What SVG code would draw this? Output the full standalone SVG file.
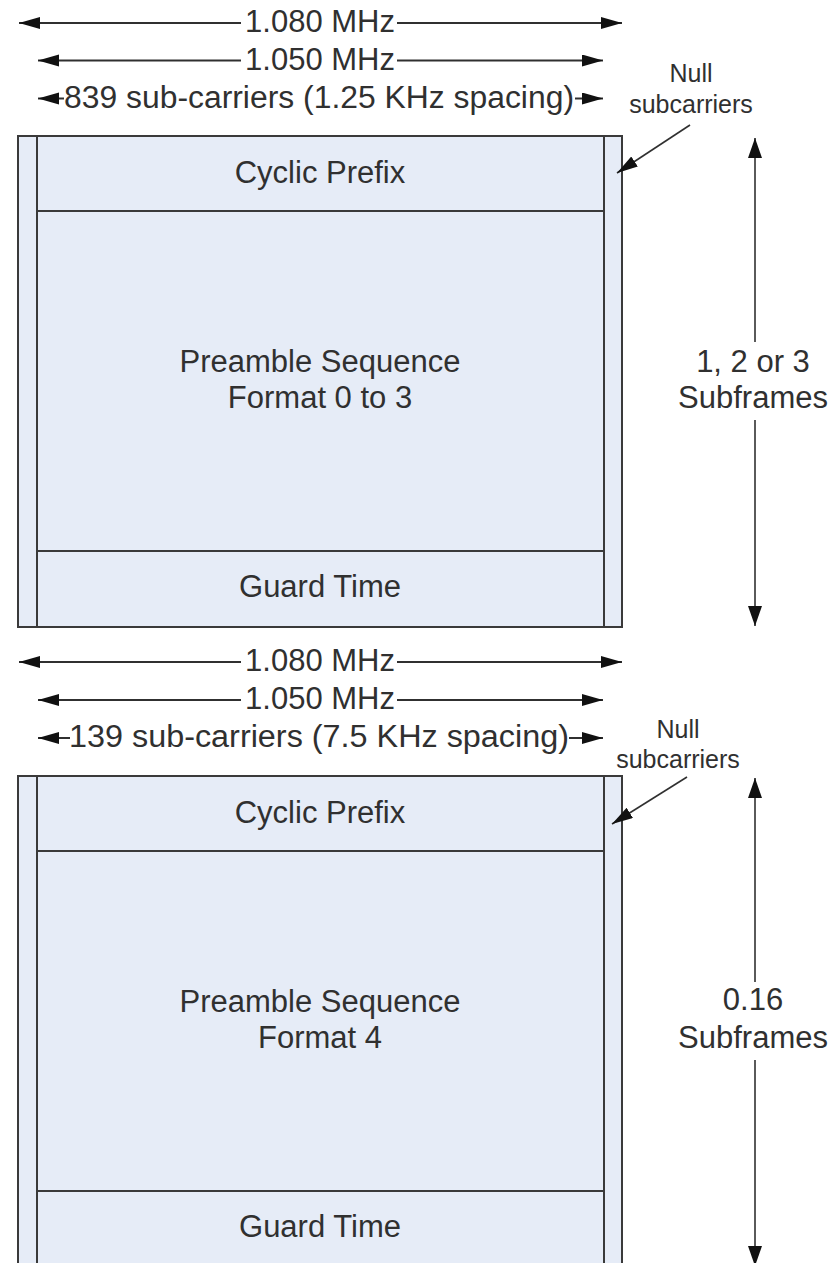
<svg xmlns="http://www.w3.org/2000/svg" width="836" height="1263" viewBox="0 0 836 1263">
  <style>
    .blk { fill: #e6ecf7; stroke: #3a3a3a; stroke-width: 2; }
    .t { font-family: "Liberation Sans", Arial, sans-serif; font-size: 31px; fill: #303030; text-anchor: middle; }
    .ts { font-family: "Liberation Sans", Arial, sans-serif; font-size: 25px; fill: #303030; text-anchor: middle; }
    .dim { stroke: #303030; stroke-width: 2; fill: none; }
    .vert { stroke: #5a5a5a; stroke-width: 2; fill: none; }
    .ptr { stroke: #303030; stroke-width: 1.6; fill: none; }
  </style>
  <defs>
    <marker id="ah" markerUnits="userSpaceOnUse" markerWidth="22" markerHeight="14" refX="21" refY="6" orient="auto">
      <path d="M0,0 L21,6 L0,12 z" fill="#111"/>
    </marker>
    <marker id="ahv" markerUnits="userSpaceOnUse" markerWidth="22" markerHeight="16" refX="20" refY="7" orient="auto">
      <path d="M0,0 L20,7 L0,14 z" fill="#111"/>
    </marker>
  </defs>
  <rect width="836" height="1263" fill="#ffffff"/>

  <!-- Block 1 -->
  <g id="b1-null-left"><rect class="blk" x="18" y="136" width="19" height="491"/></g>
  <g id="b1-null-right"><rect class="blk" x="604" y="136" width="18" height="491"/></g>
  <g id="b1-cyclic-prefix">
    <rect class="blk" x="37" y="136" width="567" height="75"/>
    <text class="t" x="320" y="183">Cyclic Prefix</text>
  </g>
  <g id="b1-preamble">
    <rect class="blk" x="37" y="211" width="567" height="340"/>
    <text class="t" x="320" y="372">Preamble Sequence</text>
    <text class="t" x="320" y="408">Format 0 to 3</text>
  </g>
  <g id="b1-guard">
    <rect class="blk" x="37" y="551" width="567" height="76"/>
    <text class="t" x="320" y="597">Guard Time</text>
  </g>

  <!-- Block 2 -->
  <g id="b2-null-left"><rect class="blk" x="18" y="776" width="19" height="520"/></g>
  <g id="b2-null-right"><rect class="blk" x="604" y="776" width="18" height="520"/></g>
  <g id="b2-cyclic-prefix">
    <rect class="blk" x="37" y="776" width="567" height="75"/>
    <text class="t" x="320" y="823">Cyclic Prefix</text>
  </g>
  <g id="b2-preamble">
    <rect class="blk" x="37" y="851" width="567" height="340"/>
    <text class="t" x="320" y="1012">Preamble Sequence</text>
    <text class="t" x="320" y="1048">Format 4</text>
  </g>
  <g id="b2-guard">
    <rect class="blk" x="37" y="1191" width="567" height="105"/>
    <text class="t" x="320" y="1237">Guard Time</text>
  </g>

  <!-- Labels -->
  <g id="lbl1-1080"><text class="t" x="320" y="32">1.080 MHz</text></g>
  <g id="lbl1-1050"><text class="t" x="320" y="69.5">1.050 MHz</text></g>
  <g id="lbl1-839"><text class="t" x="319" y="107.5" textLength="510" lengthAdjust="spacingAndGlyphs">839 sub-carriers (1.25 KHz spacing)</text></g>
  <g id="lbl1-null"><text class="ts" x="691" y="82">Null</text><text class="ts" x="691" y="112.5">subcarriers</text></g>
  <g id="lbl1-subframes"><text class="t" x="753" y="372">1, 2 or 3</text><text class="t" x="753" y="408">Subframes</text></g>

  <g id="lbl2-1080"><text class="t" x="320" y="671">1.080 MHz</text></g>
  <g id="lbl2-1050"><text class="t" x="320" y="709">1.050 MHz</text></g>
  <g id="lbl2-139"><text class="t" x="319" y="747" textLength="500" lengthAdjust="spacingAndGlyphs">139 sub-carriers (7.5 KHz spacing)</text></g>
  <g id="lbl2-null"><text class="ts" x="678" y="738">Null</text><text class="ts" x="678" y="768">subcarriers</text></g>
  <g id="lbl2-subframes"><text class="t" x="753" y="1010">0.16</text><text class="t" x="753" y="1048">Subframes</text></g>

  <!-- Connectors -->
  <g id="connectors">
    <line class="dim" x1="241" y1="23" x2="19" y2="23" marker-end="url(#ah)"/>
    <line class="dim" x1="397" y1="23" x2="622" y2="23" marker-end="url(#ah)"/>
    <line class="dim" x1="241" y1="60.5" x2="38" y2="60.5" marker-end="url(#ah)"/>
    <line class="dim" x1="397" y1="60.5" x2="603" y2="60.5" marker-end="url(#ah)"/>
    <line class="dim" x1="64" y1="98.5" x2="38" y2="98.5" marker-end="url(#ah)"/>
    <line class="dim" x1="575" y1="98.5" x2="603" y2="98.5" marker-end="url(#ah)"/>
    <line class="ptr" x1="690" y1="125" x2="617" y2="173" marker-end="url(#ah)"/>
    <line class="vert" x1="755" y1="342" x2="755" y2="138" marker-end="url(#ahv)"/>
    <line class="vert" x1="755" y1="420" x2="755" y2="626" marker-end="url(#ahv)"/>

    <line class="dim" x1="241" y1="662" x2="19" y2="662" marker-end="url(#ah)"/>
    <line class="dim" x1="397" y1="662" x2="622" y2="662" marker-end="url(#ah)"/>
    <line class="dim" x1="241" y1="700" x2="38" y2="700" marker-end="url(#ah)"/>
    <line class="dim" x1="397" y1="700" x2="603" y2="700" marker-end="url(#ah)"/>
    <line class="dim" x1="70" y1="738" x2="38" y2="738" marker-end="url(#ah)"/>
    <line class="dim" x1="569" y1="738" x2="603" y2="738" marker-end="url(#ah)"/>
    <line class="ptr" x1="687" y1="777" x2="612" y2="824" marker-end="url(#ah)"/>
    <line class="vert" x1="755" y1="982" x2="755" y2="778" marker-end="url(#ahv)"/>
    <line class="vert" x1="755" y1="1060" x2="755" y2="1266" marker-end="url(#ahv)"/>
  </g>
</svg>
